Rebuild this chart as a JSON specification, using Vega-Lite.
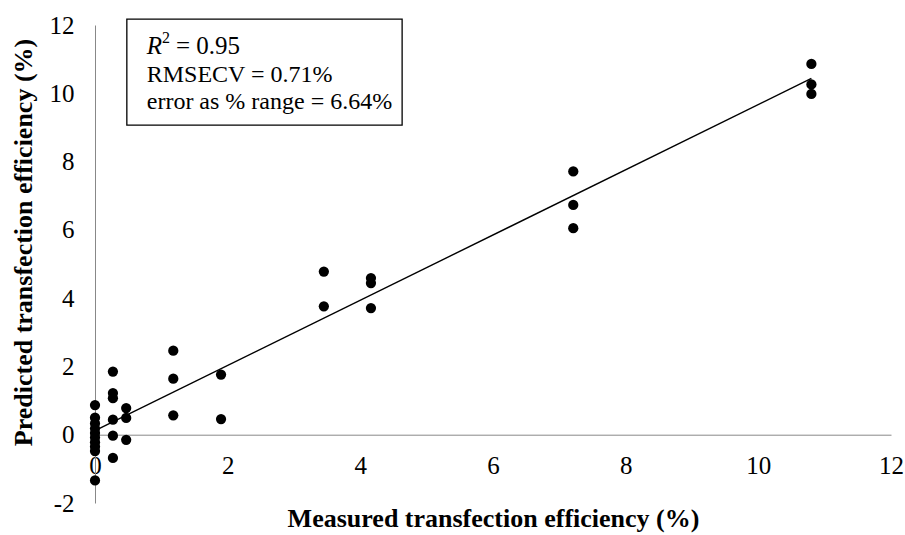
{
  "$schema": "https://vega.github.io/schema/vega-lite/v6.json",
  "width": 796,
  "height": 478,
  "autosize": {"type": "none"},
  "padding": {"left": 95, "top": 25, "right": 14, "bottom": 32},
  "background": "white",
  "config": {
    "view": {"stroke": null},
    "font": "Liberation Serif"
  },
  "datasets": {
    "samples": [
      {"measured": 0, "predicted": 0.87},
      {"measured": 0, "predicted": 0.5},
      {"measured": 0, "predicted": 0.33},
      {"measured": 0, "predicted": 0.18},
      {"measured": 0, "predicted": 0.05},
      {"measured": 0, "predicted": -0.08},
      {"measured": 0, "predicted": -0.22},
      {"measured": 0, "predicted": -0.35},
      {"measured": 0, "predicted": -0.48},
      {"measured": 0, "predicted": -1.34},
      {"measured": 0.27, "predicted": 1.85},
      {"measured": 0.27, "predicted": 1.22},
      {"measured": 0.27, "predicted": 1.07},
      {"measured": 0.27, "predicted": 0.44},
      {"measured": 0.27, "predicted": -0.03},
      {"measured": 0.27, "predicted": -0.68},
      {"measured": 0.47, "predicted": 0.78},
      {"measured": 0.47, "predicted": 0.49},
      {"measured": 0.47, "predicted": -0.15},
      {"measured": 1.18, "predicted": 2.46},
      {"measured": 1.18, "predicted": 1.64},
      {"measured": 1.18, "predicted": 0.57},
      {"measured": 1.9, "predicted": 1.76},
      {"measured": 1.9, "predicted": 0.46},
      {"measured": 3.45, "predicted": 4.78},
      {"measured": 3.45, "predicted": 3.76},
      {"measured": 4.16, "predicted": 4.59},
      {"measured": 4.16, "predicted": 4.44},
      {"measured": 4.16, "predicted": 3.71},
      {"measured": 7.21, "predicted": 7.71},
      {"measured": 7.21, "predicted": 6.73},
      {"measured": 7.21, "predicted": 6.05},
      {"measured": 10.8, "predicted": 10.86},
      {"measured": 10.8, "predicted": 10.26},
      {"measured": 10.8, "predicted": 9.98}
    ],
    "statsBox": [
      {"left": 0.48, "right": 4.63, "top": 12.17, "bottom": 9.07}
    ],
    "statsLines": [
      {"label": "RMSECV = 0.71%", "px": 0.78, "py": 10.54},
      {"label": "error as % range = 6.64%", "px": 0.78, "py": 9.75}
    ],
    "r2Symbol": [
      {"label": "R", "px": 0.78, "py": 11.38}
    ],
    "r2Exponent": [
      {"label": "2", "px": 1.01, "py": 11.62}
    ],
    "r2Value": [
      {"label": "= 0.95", "px": 1.22, "py": 11.38}
    ]
  },
  "layer": [
    {
      "data": {"name": "statsBox"},
      "mark": {"type": "rect", "fill": "white", "stroke": "black", "strokeWidth": 1.3},
      "encoding": {
        "x": {
          "field": "left",
          "type": "quantitative",
          "scale": {"domain": [0, 12], "nice": false, "zero": false},
          "axis": {
            "title": "Measured transfection efficiency (%)",
            "values": [0, 2, 4, 6, 8, 10, 12],
            "labelExpr": "datum.value + ''",
            "grid": false,
            "ticks": false,
            "tickSize": 0,
            "offset": -68.3,
            "domainColor": "#888888",
            "domainWidth": 1,
            "labelFont": "Liberation Serif",
            "labelFontSize": 25,
            "labelColor": "black",
            "labelPadding": 19,
            "labelFlush": false,
            "labelOverlap": false,
            "titleFont": "Liberation Serif",
            "titleFontSize": 26,
            "titleFontWeight": "bold",
            "titleColor": "black",
            "titleY": 92,
            "titleBaseline": "alphabetic"
          }
        },
        "x2": {"field": "right"},
        "y": {
          "field": "top",
          "type": "quantitative",
          "scale": {"domain": [-2, 12], "nice": false, "zero": false},
          "axis": {
            "title": "Predicted transfection efficiency (%)",
            "values": [-2, 0, 2, 4, 6, 8, 10, 12],
            "labelExpr": "datum.value + ''",
            "grid": false,
            "ticks": false,
            "tickSize": 0,
            "domainColor": "#888888",
            "domainWidth": 1,
            "labelFont": "Liberation Serif",
            "labelFontSize": 25,
            "labelColor": "black",
            "labelPadding": 21,
            "labelFlush": false,
            "labelOverlap": false,
            "titleFont": "Liberation Serif",
            "titleFontSize": 26,
            "titleFontWeight": "bold",
            "titleColor": "black",
            "titleAngle": 270,
            "titleX": -72,
            "titleY": 217,
            "titleAlign": "center",
            "titleBaseline": "middle"
          }
        },
        "y2": {"field": "bottom"}
      }
    },
    {
      "data": {"name": "samples"},
      "transform": [{"regression": "predicted", "on": "measured"}],
      "mark": {"type": "line", "color": "black", "strokeWidth": 1.4},
      "encoding": {
        "x": {"field": "measured", "type": "quantitative"},
        "y": {"field": "predicted", "type": "quantitative"}
      }
    },
    {
      "data": {"name": "samples"},
      "mark": {"type": "point", "filled": true, "color": "black", "opacity": 1, "size": 105},
      "encoding": {
        "x": {"field": "measured", "type": "quantitative"},
        "y": {"field": "predicted", "type": "quantitative"}
      }
    },
    {
      "data": {"name": "statsLines"},
      "mark": {"type": "text", "align": "left", "baseline": "middle", "font": "Liberation Serif", "fontSize": 24, "color": "black"},
      "encoding": {
        "x": {"field": "px", "type": "quantitative"},
        "y": {"field": "py", "type": "quantitative"},
        "text": {"field": "label"}
      }
    },
    {
      "data": {"name": "r2Symbol"},
      "mark": {"type": "text", "align": "left", "baseline": "middle", "font": "Liberation Serif", "fontStyle": "italic", "fontSize": 25, "color": "black"},
      "encoding": {
        "x": {"field": "px", "type": "quantitative"},
        "y": {"field": "py", "type": "quantitative"},
        "text": {"field": "label"}
      }
    },
    {
      "data": {"name": "r2Exponent"},
      "mark": {"type": "text", "align": "left", "baseline": "middle", "font": "Liberation Serif", "fontSize": 16, "color": "black"},
      "encoding": {
        "x": {"field": "px", "type": "quantitative"},
        "y": {"field": "py", "type": "quantitative"},
        "text": {"field": "label"}
      }
    },
    {
      "data": {"name": "r2Value"},
      "mark": {"type": "text", "align": "left", "baseline": "middle", "font": "Liberation Serif", "fontSize": 25, "color": "black"},
      "encoding": {
        "x": {"field": "px", "type": "quantitative"},
        "y": {"field": "py", "type": "quantitative"},
        "text": {"field": "label"}
      }
    }
  ]
}
